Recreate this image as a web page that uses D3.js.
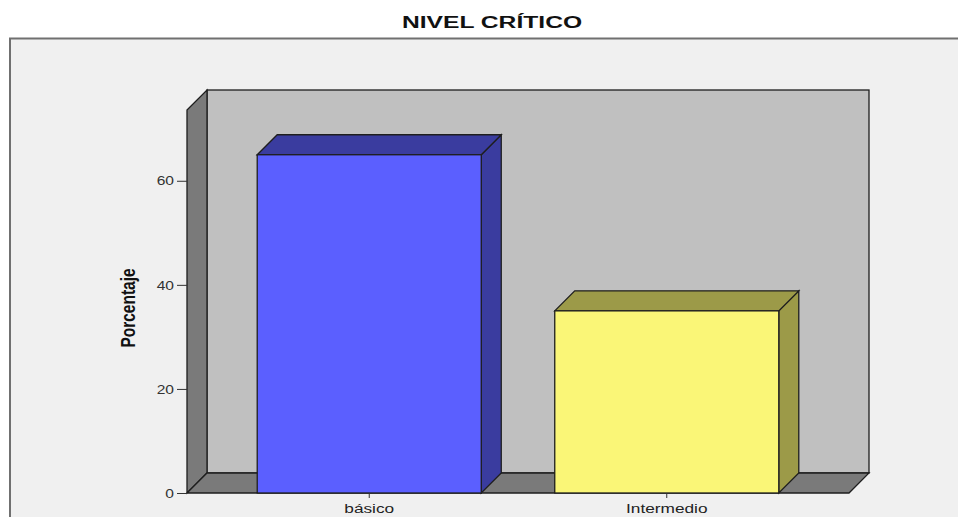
<!DOCTYPE html>
<html>
<head>
<meta charset="utf-8">
<script src="https://cdn.jsdelivr.net/npm/d3@7"></script>
<style>
  body { margin: 0; background: #fff; }
  svg text { font-family: "Liberation Sans", Arial, sans-serif; }
</style>
</head>
<body>
<svg id="svg" width="958" height="517"></svg>
<script>
// datos
var categories = ["básico", "Intermedio"];
var values = [65.0, 35.0];
var yTicks = [0, 20, 40, 60];
var barFront = ["#5b5fff", "#faf677"];
var barShade = ["#3a3c9f", "#9c9a48"];

var W = 958, H = 517;
var depth = 20;          // profundidad 3d
var sx = 1.38;           // el original esta estirado a lo ancho
var plot = { left: 187, right: 849, top: 110, bottom: 493 };

var svg = d3.select("#svg");
svg.selectAll("*").remove();

// marco
svg.append("rect")
  .attr("x", 10).attr("y", 38.5)
  .attr("width", W).attr("height", H)
  .attr("fill", "#f0f0f0")
  .attr("stroke", "#707070")
  .attr("stroke-width", 2);

// titulo
svg.append("text")
  .attr("transform", `translate(492,28) scale(1.45,1)`)
  .attr("text-anchor", "middle")
  .style("font-size", "17px")
  .style("font-weight", "bold")
  .attr("fill", "#111")
  .text("NIVEL CRÍTICO");

var xScale = d3.scaleBand()
  .domain(categories)
  .range([plot.left, plot.right])
  .paddingInner(0.247)
  .paddingOuter(0.236);

var yScale = d3.scaleLinear()
  .domain([0, 73.6])
  .range([plot.bottom, plot.top]);

var container = svg.append("g");
var line = d3.line();
var stroke = "#1e1e1e";

var y0 = yScale(0), yTop = yScale(73.6);
var xL = plot.left, xR = plot.right;

// pared del fondo
container.append("rect")
  .attr("x", xL + depth).attr("y", yTop - depth)
  .attr("width", xR - xL).attr("height", y0 - yTop)
  .attr("fill", "#c0c0c0").attr("stroke", stroke).attr("stroke-width", 1.3);

// pared izquierda
container.append("path")
  .attr("d", line([[xL, yTop], [xL + depth, yTop - depth], [xL + depth, y0 - depth], [xL, y0]]) + "Z")
  .attr("fill", "#7a7a7a").attr("stroke", stroke).attr("stroke-width", 1.3);

// piso
container.append("path")
  .attr("d", line([[xL, y0], [xL + depth, y0 - depth], [xR + depth, y0 - depth], [xR, y0]]) + "Z")
  .attr("fill", "#7a7a7a").attr("stroke", stroke).attr("stroke-width", 1.3);

// barras
var bw = xScale.bandwidth();
var bars = container.selectAll(".bar")
  .data(categories.map((c, i) => ({ c: c, v: values[i], i: i })))
  .enter().append("g").attr("class", "bar");

bars.append("path")
  .attr("d", d => {
    var x = xScale(d.c), y = yScale(d.v);
    return line([[x + bw, y], [x + bw + depth, y - depth], [x + bw + depth, y0 - depth], [x + bw, y0]]) + "Z";
  })
  .attr("fill", d => barShade[d.i]).attr("stroke", stroke).attr("stroke-width", 1.3);

bars.append("path")
  .attr("d", d => {
    var x = xScale(d.c), y = yScale(d.v);
    return line([[x, y], [x + depth, y - depth], [x + bw + depth, y - depth], [x + bw, y]]) + "Z";
  })
  .attr("fill", d => barShade[d.i]).attr("stroke", stroke).attr("stroke-width", 1.3);

bars.append("rect")
  .attr("x", d => xScale(d.c))
  .attr("y", d => yScale(d.v))
  .attr("width", bw)
  .attr("height", d => y0 - yScale(d.v))
  .attr("fill", d => barFront[d.i]).attr("stroke", stroke).attr("stroke-width", 1.3);

// ejes
var yAxis = svg.append("g")
  .attr("transform", `translate(${plot.left},0)`)
  .call(d3.axisLeft(yScale).tickValues(yTicks).tickSize(10).tickPadding(3));
yAxis.select(".domain").remove();
yAxis.selectAll(".tick line").attr("stroke", "#333");
yAxis.selectAll(".tick text")
  .attr("x", -13 / 1.2)
  .attr("transform", "scale(1.2,1)")
  .style("font-size", "13px")
  .attr("fill", "#333");

var xAxis = svg.append("g")
  .attr("transform", `translate(0,${plot.bottom})`)
  .call(d3.axisBottom(xScale).tickSize(5).tickPadding(6));
xAxis.select(".domain").remove();
xAxis.selectAll(".tick line").attr("stroke", "#333");
xAxis.selectAll(".tick text")
  .attr("transform", `scale(${sx},1)`)
  .style("font-size", "12.5px")
  .attr("fill", "#222");

// titulo eje y
svg.append("text")
  .attr("transform", `translate(135,308) scale(1.3,1) rotate(-90)`)
  .attr("text-anchor", "middle")
  .style("font-size", "15.5px")
  .style("font-weight", "bold")
  .attr("fill", "#111")
  .text("Porcentaje");
</script>
</body>
</html>
